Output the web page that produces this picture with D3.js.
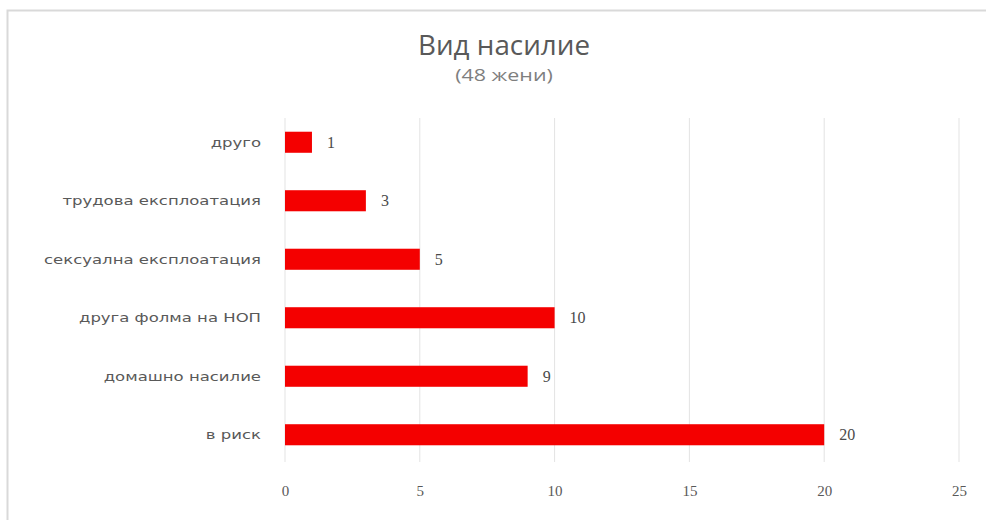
<!DOCTYPE html>
<html>
<head>
<meta charset="utf-8">
<script src="https://cdn.jsdelivr.net/npm/d3@7"></script>
<style>
    body { margin: 0; background: #fff; }
    svg { display: block; }
</style>
</head>
<body>
<div id="chart"></div>
<script>
// ===== Data =====
const categories = ['друго', 'трудова експлоатация', 'сексуална експлоатация', 'друга фолма на НОП', 'домашно насилие', 'в риск'];
const values = [1, 3, 5, 10, 9, 20];
const xTicks = [0, 5, 10, 15, 20, 25];
const titleText = 'Вид насилие';
const subtitleText = '(48 жени)';

// ===== Setup =====
const W = 986, H = 520;
const margin = { top: 113, right: 27, bottom: 56, left: 285 };
const height = H - margin.top - margin.bottom;

const svg = d3.select('#chart').append('svg')
    .attr('width', W)
    .attr('height', H);

// outer frame (only top and left edge visible)
svg.append('path')
    .attr('d', `M7.5,${H} V10.5 H${W}`)
    .attr('fill', 'none')
    .attr('stroke', '#d9d9d9')
    .attr('stroke-width', 2);

// the source picture is stretched horizontally, so text gets an x-scale
function stretchedText(parent, x, y, sx, anchor) {
    return parent.append('g')
        .attr('transform', `translate(${x},${y}) scale(${sx},1)`)
        .append('text')
        .attr('text-anchor', anchor);
}

stretchedText(svg, 504, 55, 1.03, 'middle')
    .style('font-family', 'Open Sans, sans-serif')
    .style('font-size', '27px')
    .attr('fill', '#595959')
    .text(titleText);

stretchedText(svg, 504, 81, 1.3, 'middle')
    .style('font-family', 'Open Sans, sans-serif')
    .style('font-size', '16.5px')
    .attr('fill', '#7f7f7f')
    .text(subtitleText);

const g = svg.append('g')
    .attr('transform', `translate(${margin.left},${margin.top})`);

// ===== Scales =====
const x = d3.scaleLinear().domain([0, 25]).range([0, 674]);
const y = d3.scaleBand().domain(categories).range([0, 351]).paddingInner(0.64).paddingOuter(0.32);

// gridlines
g.append('g')
    .selectAll('line')
    .data(xTicks)
    .join('line')
    .attr('x1', d => x(d)).attr('x2', d => x(d))
    .attr('y1', 5).attr('y2', 349)
    .attr('stroke', '#e3e3e3')
    .attr('stroke-width', 1);

// bars
g.selectAll('.bar')
    .data(values)
    .join('rect')
    .attr('class', 'bar')
    .attr('x', 0)
    .attr('y', (d, i) => y(categories[i]))
    .attr('width', d => x(d))
    .attr('height', y.bandwidth())
    .attr('fill', '#f40000');

// value labels
g.selectAll('.val')
    .data(values)
    .join('text')
    .attr('class', 'val')
    .attr('x', d => x(d) + 15)
    .attr('y', (d, i) => y(categories[i]) + y.bandwidth() / 2)
    .attr('dy', '0.35em')
    .style('font-family', 'Liberation Serif, serif')
    .style('font-size', '16px')
    .attr('fill', '#4a4a4a')
    .text(d => d);

// category labels (drawn from the band scale, stretched like the source)
categories.forEach(c => {
    stretchedText(g, -24, y(c) + y.bandwidth() / 2, 1.32, 'end')
        .attr('dy', '0.35em')
        .style('font-family', 'DejaVu Sans, sans-serif')
        .style('font-size', '12.5px')
        .attr('fill', '#595959')
        .text(c);
});

// x axis labels
const xAxis = g.append('g')
    .attr('transform', `translate(0,${height})`)
    .call(d3.axisBottom(x).tickValues(xTicks).tickSize(0).tickPadding(21));
xAxis.select('.domain').remove();
xAxis.selectAll('text')
    .style('font-family', 'Liberation Serif, serif')
    .style('font-size', '15px')
    .attr('fill', '#595959');
</script>
</body>
</html>
